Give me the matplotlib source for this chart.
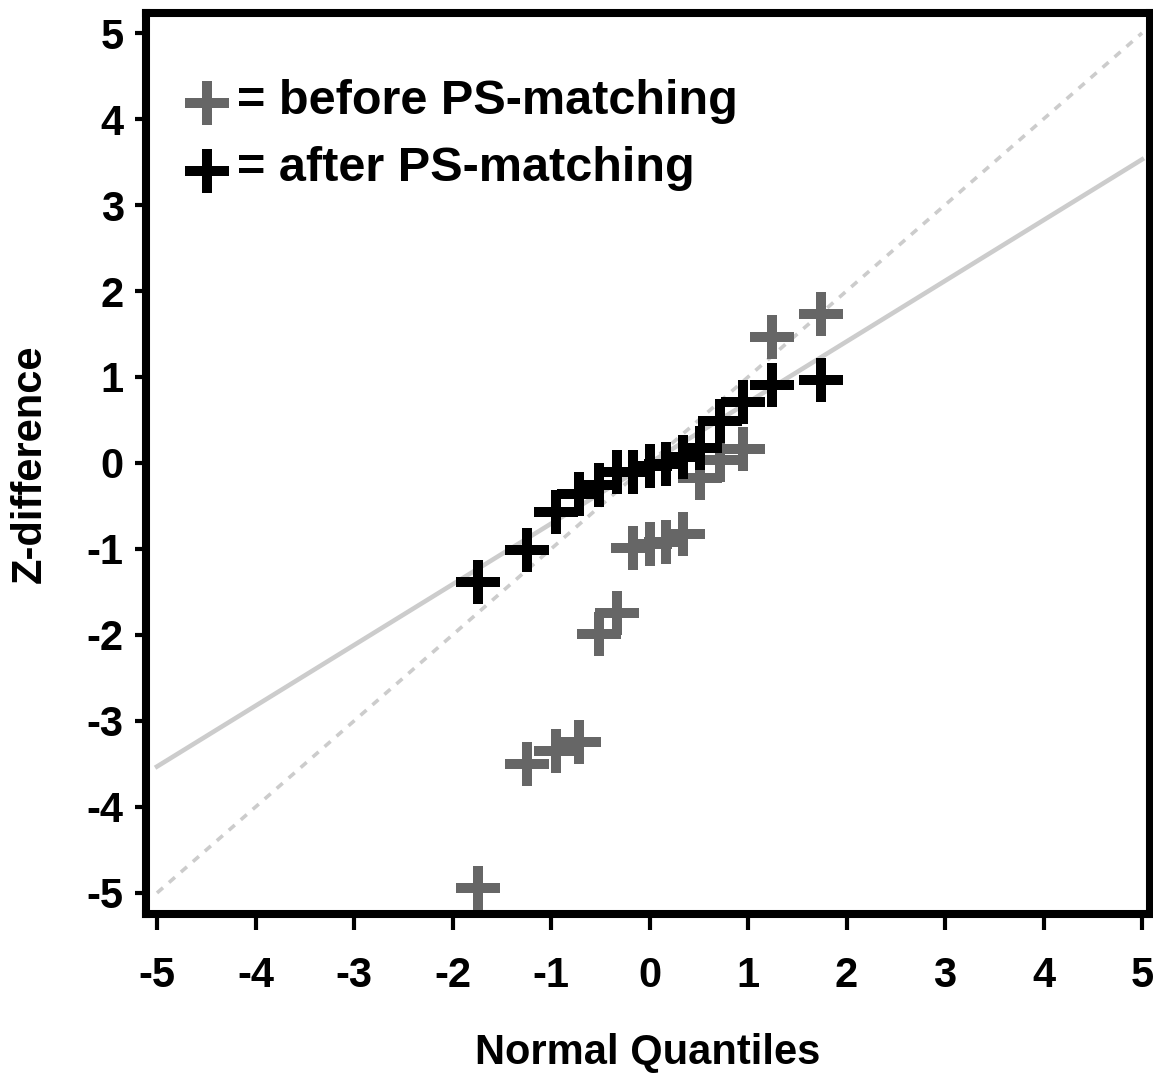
import matplotlib
matplotlib.use("Agg")
import matplotlib.pyplot as plt

# normal quantiles (15 points per group)
quantiles = [-1.739, -1.245, -0.946, -0.712, -0.515, -0.335, -0.165, 0.0,
             0.165, 0.335, 0.515, 0.712, 0.946, 1.245, 1.739]
# z-differences
z_before = [-4.94, -3.50, -3.35, -3.25, -1.99, -1.75, -0.99, -0.94,
            -0.915, -0.82, -0.17, 0.03, 0.165, 1.46, 1.73]
z_after = [-1.385, -1.01, -0.57, -0.355, -0.26, -0.11, -0.11, -0.035,
           -0.01, 0.065, 0.17, 0.49, 0.705, 0.905, 0.96]

ref_x = [-5, 5]
identity_y = [-5, 5]
fit_y = [-3.53, 3.53]

ticks = [-5, -4, -3, -2, -1, 0, 1, 2, 3, 4, 5]

plt.rcParams['font.family'] = ['Liberation Sans', 'DejaVu Sans']
plt.rcParams['font.weight'] = 'bold'

fig = plt.figure(figsize=(11.53, 10.74), dpi=100)
ax = fig.add_axes([0.1266, 0.1492, 0.8708, 0.8387])

light = '#cccccc'
ax.plot(ref_x, identity_y, color=light, lw=2.6, ls=(0, (2.2, 2.2)), zorder=1)
ax.plot(ref_x, fit_y, color=light, lw=3.3, zorder=1)

mk = dict(marker='+', ms=31, mew=7.2, ls='none')
ax.plot(quantiles, z_before, color='#666666', zorder=3, **mk)
ax.plot(quantiles, z_after, color='black', zorder=4, **mk)

# legend drawn by hand
ax.plot([0.0605], [0.900], transform=ax.transAxes, color='#666666', **mk)
ax.plot([0.0605], [0.825], transform=ax.transAxes, color='black', **mk)
ax.text(0.0907, 0.902, '= before PS-matching', transform=ax.transAxes,
        fontsize=35, fontweight='bold', va='center', ha='left')
ax.text(0.0907, 0.827, '= after PS-matching', transform=ax.transAxes,
        fontsize=35, fontweight='bold', va='center', ha='left')

ax.set_xlim(-5.112, 5.081)
ax.set_ylim(-5.242, 5.233)
ax.set_xticks(ticks)
ax.set_yticks(ticks)
ax.set_xticklabels([str(t) for t in ticks])
ax.set_yticklabels([str(t) for t in ticks])

for s in ax.spines.values():
    s.set_linewidth(5.8)
ax.tick_params(axis='x', direction='out', length=11.5, width=3, pad=19,
               labelsize=30)
ax.tick_params(axis='y', direction='out', length=8, width=3, pad=8,
               labelsize=30)
for lab in ax.get_xticklabels() + ax.get_yticklabels():
    lab.set_fontweight('bold')

ax.set_xlabel('Normal Quantiles', fontsize=30, fontweight='bold')
ax.set_ylabel('Z-difference', fontsize=30, fontweight='bold')
ax.xaxis.set_label_coords(0.5, -0.1545)
ax.xaxis.label.set_va('center')
ax.yaxis.set_label_coords(-0.1157, 0.5)
ax.yaxis.label.set_va('center')

fig.savefig('out.png', dpi=100)
